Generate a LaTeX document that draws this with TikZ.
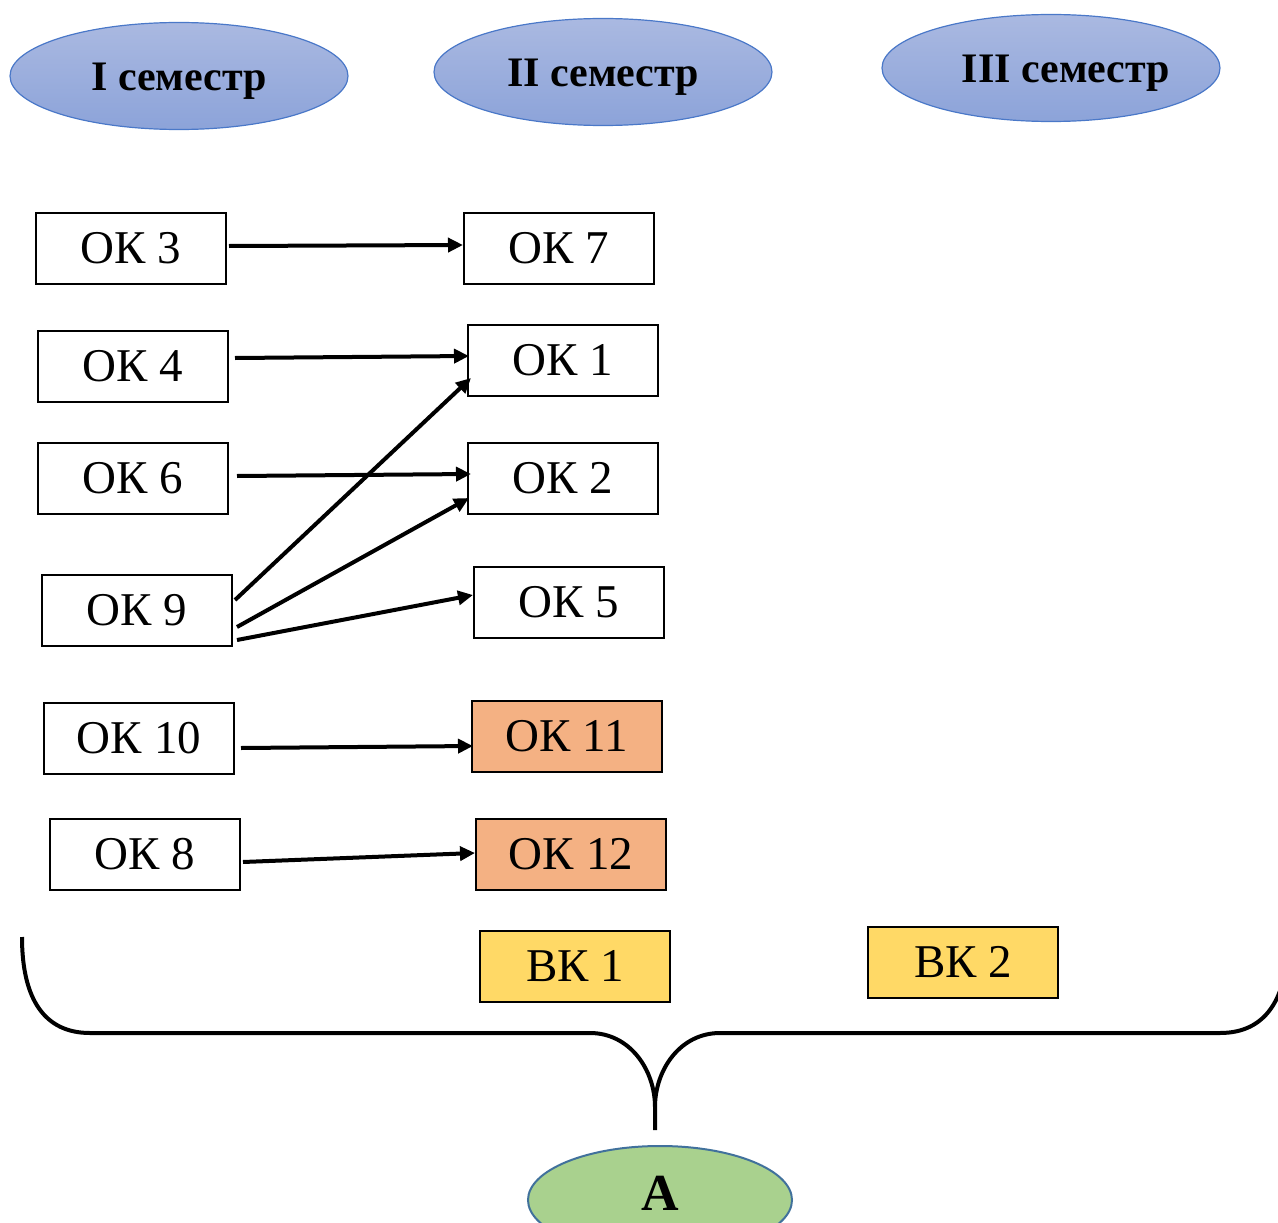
\documentclass[tikz,border=0pt]{standalone}
\usepackage{fontspec}
\setmainfont{Liberation Serif}
\usetikzlibrary{shapes.geometric,arrows.meta}
\definecolor{semtop}{HTML}{AAB9E1}
\definecolor{sembot}{HTML}{8CA3D9}
\definecolor{semline}{HTML}{4A78C8}
\definecolor{okorange}{HTML}{F4B183}
\definecolor{vkyellow}{HTML}{FFD966}
\definecolor{agreen}{HTML}{A9D18E}
\definecolor{aline}{HTML}{41719C}
\tikzset{
  sem/.style={ellipse, draw=semline, line width=1.2pt, top color=semtop, bottom color=sembot,
    minimum width=338pt, minimum height=107pt, inner sep=0pt},
  semtext/.style={font=\fontsize{42}{46}\selectfont\bfseries},
  course/.style={rectangle, draw=black, line width=2pt, fill=white,
    minimum width=190pt, minimum height=71pt, inner sep=0pt,
    font=\fontsize{47}{50}\selectfont},
  req/.style={course, fill=okorange},
  elect/.style={course, fill=vkyellow},
  link/.style={line width=4pt, -{Triangle[length=15pt,width=14pt]}},
}
\begin{document}
\begin{tikzpicture}[x=1pt,y=-1pt]
\useasboundingbox (0,0) rectangle (1278,1223);
\clip (0,0) rectangle (1278,1223);

% semester headers
\node[sem] (s1) at (179,76) {};
\node[sem] (s2) at (603,72) {};
\node[sem] (s3) at (1051,68) {};
\node[semtext] (s1t) at (179,81) {I семестр};
\node[semtext] (s2t) at (603,77) {II семестр};
\node[semtext] (s3t) at (1066,73) {III семестр};

% first semester courses
\node[course] (ok3)  at (131,248.5) {ОК 3};
\node[course] (ok4)  at (133,366)   {ОК 4};
\node[course] (ok6)  at (133,478)   {ОК 6};
\node[course] (ok9)  at (137,610.5) {ОК 9};
\node[course] (ok10) at (139,738.5) {ОК 10};
\node[course] (ok8)  at (145,854.5) {ОК 8};

% second semester courses
\node[course] (ok7)  at (559,248.5) {ОК 7};
\node[course] (ok1)  at (563,360.5) {ОК 1};
\node[course] (ok2)  at (563,478)   {ОК 2};
\node[course] (ok5)  at (569,602.5) {ОК 5};
\node[req]    (ok11) at (567,736.5) {ОК 11};
\node[req]    (ok12) at (571,854.5) {ОК 12};

% electives
\node[elect] (vk1) at (575,966.5) {ВК 1};
\node[elect] (vk2) at (963,962.5) {ВК 2};

% prerequisites
\draw[link] ([xshift=2pt,yshift=2.5pt]ok3.east) -- ([yshift=3.5pt]ok7.west);
\draw[link] ([xshift=6pt,yshift=8pt]ok4.east) -- ([xshift=2pt,yshift=4.5pt]ok1.west);
\draw[link] ([xshift=8pt,yshift=2pt]ok6.east) -- ([xshift=4pt,yshift=4pt]ok2.west);
\draw[link] ([xshift=2pt,yshift=10.5pt]ok9.east) -- ([xshift=4pt,yshift=-17.5pt]ok1.west);
\draw[link] ([xshift=4pt,yshift=-16.5pt]ok9.east) -- ([xshift=2pt,yshift=-20pt]ok2.west);
\draw[link] ([xshift=4pt,yshift=-29.5pt]ok9.east) -- ([yshift=7.5pt]ok5.west);
\draw[link] ([xshift=6pt,yshift=-9.5pt]ok10.east) -- ([xshift=2pt,yshift=-9.5pt]ok11.west);
\draw[link] ([xshift=2pt,yshift=-7.5pt]ok8.east) -- ([yshift=1.5pt]ok12.west);

% outcome
\node[ellipse, draw=aline, line width=2pt, fill=agreen, minimum width=264pt,
  minimum height=108pt, inner sep=0pt] (res) at (660,1200) {};
\node[font=\fontsize{52}{56}\selectfont\bfseries] (reslabel) at (660,1193) {А};

% brace collecting all courses
\coordinate (tip) at (655,1130);
\draw[line width=4pt]
  (22,937) .. controls (22,1000) and (45,1033) .. (90,1033)
  -- (590,1033) .. controls (630,1033) and (655,1070) .. (655,1107)
  -- (tip)
  (655,1107) .. controls (655,1070) and (680,1033) .. (720,1033)
  -- (1220,1033) .. controls (1265,1033) and (1288,1000) .. (1288,937);
\end{tikzpicture}
\end{document}
